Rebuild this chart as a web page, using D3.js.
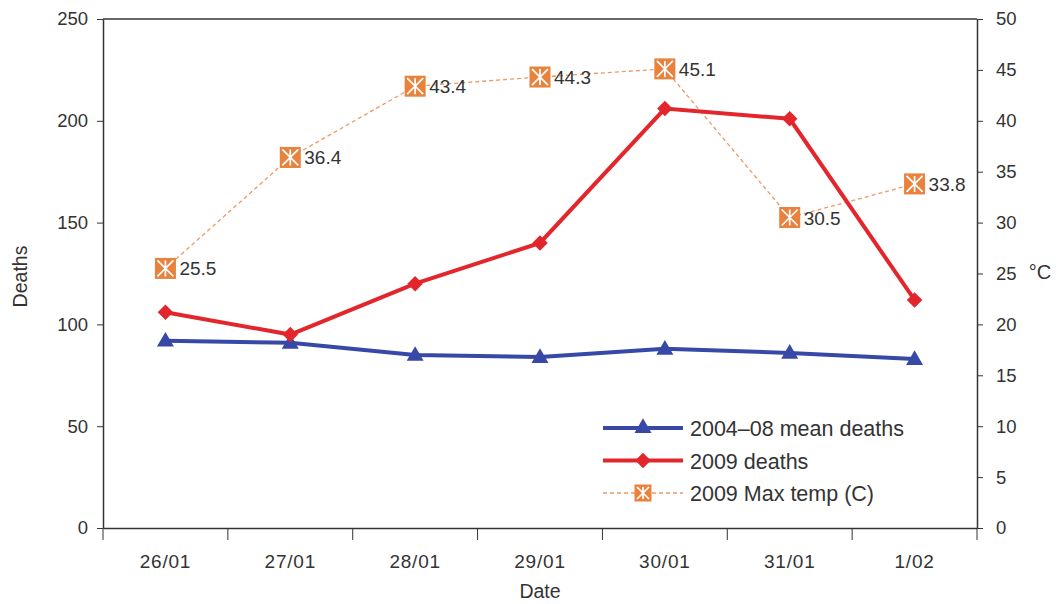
<!DOCTYPE html>
<html>
<head>
<meta charset="utf-8">
<script src="https://cdn.jsdelivr.net/npm/d3@7"></script>
<style>
  body { margin: 0; background: #fff; }
  svg { font-family: "Liberation Sans", Arial, sans-serif; }
  .as text { fill: #333; }
  .as path, .as line { stroke: #333; }
</style>
</head>
<body>
<div id="grafiek"></div>
<script>
const datums = ["26/01", "27/01", "28/01", "29/01", "30/01", "31/01", "1/02"];
const gemiddeld = [92, 91, 85, 84, 88, 86, 83];
const doden2009 = [106, 95, 120, 140, 206, 201, 112];
const maxtemp = [25.5, 36.4, 43.4, 44.3, 45.1, 30.5, 33.8];
const links_ticks = [0, 50, 100, 150, 200, 250];
const rechts_ticks = d3.range(0, 51, 5);

const breedte = 1064, hoogte = 604;
const rand = { boven: 19, beneden: 76, links: 103, rechts: 87 };

const blauw = "#3748a6", rood = "#e2262c", oranje = "#e8823c", perzik = "#ec9a63";

const svg = d3.select("#grafiek").append("svg")
    .attr("width", breedte)
    .attr("height", hoogte);

const x = d3.scaleBand()
    .domain(datums)
    .range([rand.links, breedte - rand.rechts])
    .padding(0);

const y_links = d3.scaleLinear()
    .domain([0, 250])
    .range([hoogte - rand.beneden, rand.boven]);

const y_rechts = d3.scaleLinear()
    .domain([0, 50])
    .range([hoogte - rand.beneden, rand.boven]);

const midden = d => x(d) + x.bandwidth() / 2;

// bovenrand
svg.append("line")
    .attr("x1", rand.links).attr("x2", breedte - rand.rechts)
    .attr("y1", rand.boven).attr("y2", rand.boven)
    .attr("stroke", "#333").attr("stroke-width", 1.5);

// linker as
svg.append("g")
    .attr("class", "as")
    .attr("transform", `translate(${rand.links},0)`)
    .call(d3.axisLeft(y_links).tickValues(links_ticks).tickSize(6).tickPadding(9).tickSizeOuter(0))
    .call(g => g.selectAll("text").attr("font-size", 18.5))
    .call(g => g.select(".domain").attr("stroke-width", 1.5));

// rechter as
svg.append("g")
    .attr("class", "as")
    .attr("transform", `translate(${breedte - rand.rechts},0)`)
    .call(d3.axisRight(y_rechts).tickValues(rechts_ticks).tickSize(6).tickPadding(13).tickSizeOuter(0))
    .call(g => g.selectAll("text").attr("font-size", 18.5))
    .call(g => g.select(".domain").attr("stroke-width", 1.5));

// onderste as: streepjes op de grenzen, labels in het midden
const onder = svg.append("g")
    .attr("class", "as")
    .attr("transform", `translate(0,${hoogte - rand.beneden})`);
onder.call(d3.axisBottom(x).tickSize(0).tickPadding(27).tickSizeOuter(0))
    .call(g => g.selectAll("text")
        .attr("font-size", 19)
        .attr("letter-spacing", 0.8))
    .call(g => g.select(".domain").attr("stroke-width", 1.5));
onder.selectAll(".grens")
    .data(d3.range(datums.length + 1))
    .enter()
    .append("line")
    .attr("x1", i => rand.links + i * x.step())
    .attr("x2", i => rand.links + i * x.step())
    .attr("y1", 0).attr("y2", 12)
    .attr("stroke", "#333");

// astitels
svg.append("text")
    .attr("transform", `translate(27,${(rand.boven + hoogte - rand.beneden) / 2 + 3}) rotate(-90)`)
    .attr("text-anchor", "middle")
    .attr("font-size", 19.5).attr("fill", "#333")
    .text("Deaths");
svg.append("text")
    .attr("x", 1040).attr("y", 279)
    .attr("text-anchor", "middle")
    .attr("font-size", 20).attr("fill", "#333")
    .text("°C");
svg.append("text")
    .attr("x", (rand.links + breedte - rand.rechts) / 2).attr("y", 598)
    .attr("text-anchor", "middle")
    .attr("font-size", 19.5).attr("fill", "#333")
    .text("Date");

// temperatuurlijn
svg.append("path")
    .datum(maxtemp)
    .attr("fill", "none")
    .attr("stroke", perzik)
    .attr("stroke-width", 1.3)
    .attr("stroke-dasharray", "4,3")
    .attr("d", d3.line().x((_, i) => midden(datums[i])).y(d => y_rechts(d)));

// doden lijnen
const lijn = d3.line().x((_, i) => midden(datums[i])).y(d => y_links(d));
svg.append("path").datum(gemiddeld)
    .attr("fill", "none").attr("stroke", blauw).attr("stroke-width", 4)
    .attr("d", lijn);
svg.append("path").datum(doden2009)
    .attr("fill", "none").attr("stroke", rood).attr("stroke-width", 4)
    .attr("d", lijn);

const driehoek = d3.symbol().type(d3.symbolTriangle).size(125);
const ruit = d3.symbol().type(d3.symbolSquare).size(120);

function tekenTemp(g, cx, cy, s) {
    g.append("rect")
        .attr("x", cx - s / 2).attr("y", cy - s / 2)
        .attr("width", s).attr("height", s)
        .attr("fill", oranje);
    const r = s / 2 - 2.5;
    g.append("path")
        .attr("d", `M${cx},${cy - r}V${cy + r}M${cx - r},${cy - r}L${cx + r},${cy + r}M${cx - r},${cy + r}L${cx + r},${cy - r}`)
        .attr("stroke", "#fff").attr("stroke-width", 1.7);
}

svg.selectAll(".gem")
    .data(gemiddeld).enter().append("path")
    .attr("transform", (d, i) => `translate(${midden(datums[i])},${y_links(d) + 1})`)
    .attr("d", driehoek).attr("fill", blauw);

svg.selectAll(".dod")
    .data(doden2009).enter().append("path")
    .attr("transform", (d, i) => `translate(${midden(datums[i])},${y_links(d)}) rotate(45)`)
    .attr("d", ruit).attr("fill", rood);

maxtemp.forEach((d, i) => {
    const g = svg.append("g");
    tekenTemp(g, midden(datums[i]), y_rechts(d), 21);
    g.append("text")
        .attr("x", midden(datums[i]) + 14).attr("y", y_rechts(d) + 7)
        .attr("font-size", 19).attr("fill", "#333")
        .text(d.toFixed(1));
});

// legenda
const legenda = [
    { naam: "2004\u201308 mean deaths", kleur: blauw, soort: "driehoek" },
    { naam: "2009 deaths", kleur: rood, soort: "ruit" },
    { naam: "2009 Max temp (C)", kleur: perzik, soort: "temp" }
];
legenda.forEach((l, i) => {
    const ly = 428 + i * 32.5;
    const g = svg.append("g");
    const lx1 = 603, lx2 = 683, lm = (lx1 + lx2) / 2;
    const streep = g.append("line")
        .attr("x1", lx1).attr("x2", lx2).attr("y1", ly).attr("y2", ly)
        .attr("stroke", l.kleur);
    if (l.soort === "temp") {
        streep.attr("stroke-width", 1.3).attr("stroke-dasharray", "4,3");
        tekenTemp(g, lm, ly, 17);
    } else {
        streep.attr("stroke-width", 4);
        g.append("path")
            .attr("transform", `translate(${lm},${ly})` + (l.soort === "ruit" ? " rotate(45)" : ""))
            .attr("d", l.soort === "driehoek" ? driehoek : ruit)
            .attr("fill", l.kleur);
    }
    g.append("text")
        .attr("x", 690).attr("y", ly + 8)
        .attr("font-size", 21.5).attr("fill", "#333")
        .text(l.naam);
});
</script>
</body>
</html>
